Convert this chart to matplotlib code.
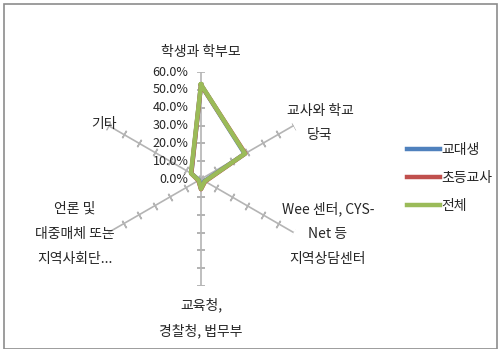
import numpy as np
import matplotlib
matplotlib.use('Agg')
import matplotlib.pyplot as plt
from matplotlib.patches import Rectangle
from matplotlib.transforms import offset_copy

plt.rcParams['font.family'] = ['Noto Sans CJK KR', 'DejaVu Sans']

# 항목 (위에서부터 시계방향)
categories = ['학생과 학부모', '교사와 학교\n당국', 'Wee 센터, CYS-\nNet 등\n지역상담센터',
              '교육청,\n경찰청, 법무부', '언론 및\n대중매체 또는\n지역사회단...', '기타']
series_names = ['교대생', '초등교사', '전체']
kyodae = [0.528, 0.283, 0.023, 0.055, 0.013, 0.063]
teacher = [0.528, 0.287, 0.027, 0.057, 0.017, 0.063]
total = [0.53, 0.285, 0.025, 0.055, 0.015, 0.065]
r_ticks = [0.0, 0.1, 0.2, 0.3, 0.4, 0.5, 0.6]
colors = ['#4F81BD', '#C0504D', '#9BBB59']

fig = plt.figure(figsize=(5, 3.49), dpi=100)
fig.patches.append(Rectangle((0.008, 0.0), 0.986, 0.988, transform=fig.transFigure,
                             fill=False, edgecolor='#8c8c8c', lw=1.2))

ax = fig.add_axes([0.188, 0.1805, 0.428, 0.613], projection='polar')
ax.set_theta_zero_location('N')
ax.set_theta_direction(-1)
ax.set_ylim(0, 0.6)
ax.grid(False)
ax.spines['polar'].set_visible(False)
ax.set_xticks([])
ax.set_yticks([])
ax.patch.set_alpha(0)

n = len(categories)
angles = np.arange(n) * 2 * np.pi / n

# 축선과 눈금
for a in angles:
    ax.plot([a, a], [0, r_ticks[-1]], color='#b4b4b4', lw=1.2, zorder=1)
    mang = 90 - np.degrees(a)
    ax.plot([a] * len(r_ticks), r_ticks, ls='none', marker=(2, 2, mang),
            ms=6, mew=1.1, color='#b4b4b4', zorder=1)

# 데이터
for vals, name, c in zip([kyodae, teacher, total], series_names, colors):
    th = np.append(angles, angles[0])
    rr = np.append(vals, vals[0])
    ax.plot(th, rr, color=c, lw=3.2, label=name, zorder=3)

# 눈금 레이블
trans = offset_copy(ax.transData, fig=fig, x=-9, y=0, units='points')
for v in r_ticks:
    ax.text(0, v, f'{v * 100:.1f}%', transform=trans, ha='right', va='center',
            fontsize=9, color='#262626')

# 항목 레이블 (픽셀 위치)
label_pos = [(201, 52, 'center'), (320, 123, 'center'), (328, 234, 'center'),
             (201, 318, 'center'), (75, 234, 'center'), (117, 124, 'right')]
for text, (px, py, ha) in zip(categories, label_pos):
    fig.text(px / 500, 1 - py / 349, text, ha=ha, va='center', fontsize=10,
             color='#262626', linespacing=2.0)

handles, labels = ax.get_legend_handles_labels()
fig.legend(handles, labels, loc='center left', bbox_to_anchor=(0.788, 0.49),
           frameon=False, fontsize=10, handlelength=2.4, handletextpad=0.1,
           labelspacing=1.0, labelcolor='#262626')

fig.savefig('out.png', dpi=100)
